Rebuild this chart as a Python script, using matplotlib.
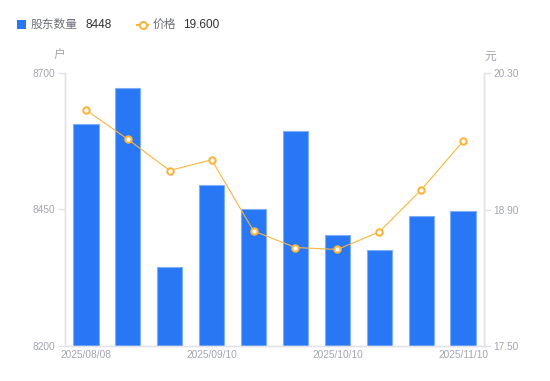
import matplotlib
matplotlib.use("Agg")
import matplotlib.pyplot as plt
from matplotlib.patches import Rectangle
from matplotlib.lines import Line2D

plt.rcParams['font.family'] = ['Liberation Sans', 'Noto Sans CJK SC', 'DejaVu Sans']

dates = ["2025/08/08", "2025/08/20", "2025/08/29", "2025/09/10", "2025/09/19",
         "2025/09/30", "2025/10/10", "2025/10/20", "2025/10/31", "2025/11/10"]
holders = [8607, 8672, 8344, 8494, 8451, 8593, 8403, 8375, 8439, 8448]
prices = [19.92, 19.62, 19.30, 19.41, 18.68, 18.51, 18.49, 18.67, 19.10, 19.60]
left_ticks = [8200, 8450, 8700]
right_ticks = [17.50, 18.90, 20.30]
shown_dates = [0, 3, 6, 9]

BLUE = '#2878F5'
ORANGE = '#FAB53F'
TICK = '#A3A5B3'
SPINE = '#E3E4E8'

W, H = 550, 381
fig = plt.figure(figsize=(W / 100, H / 100), dpi=100)
ax = fig.add_axes([65 / W, 1 - 346 / H, (484 - 65) / W, (346 - 73) / H])
x = list(range(len(dates)))
ax.bar(x, [h - left_ticks[0] for h in holders], bottom=left_ticks[0], width=0.6,
       color=BLUE, edgecolor='#7FAEF8', linewidth=0.8, zorder=2)
ax.set_xlim(-0.5, len(dates) - 0.5)
ax.set_ylim(left_ticks[0], left_ticks[-1])
ax.set_yticks(left_ticks)
ax.set_yticklabels([str(t) for t in left_ticks])
ax.set_xticks([i for i in shown_dates])
ax.set_xticklabels([dates[i] for i in shown_dates])

ax2 = ax.twinx()
ax2.plot(x, prices, color=ORANGE, linewidth=0.8, marker='o', markersize=4.6,
         markerfacecolor='white', markeredgecolor=ORANGE, markeredgewidth=1.5, zorder=3)
ax2.set_ylim(right_ticks[0], right_ticks[-1])
ax2.set_yticks(right_ticks)
ax2.set_yticklabels([f"{t:.2f}" for t in right_ticks])

for a in (ax, ax2):
    for s in ('top',):
        a.spines[s].set_visible(False)
    for s in ('left', 'right', 'bottom'):
        a.spines[s].set_color(SPINE)
        a.spines[s].set_linewidth(1.0)
    a.tick_params(axis='y', colors=SPINE, labelcolor=TICK, labelsize=7.3, length=5, width=1.0, pad=2)
ax.tick_params(axis='x', length=0, labelcolor=TICK, labelsize=7.3, pad=3)

fig.text(59 / W, 1 - 56 / H, "户", ha='center', va='center', color=TICK, fontsize=8.5)
fig.text(490 / W, 1 - 57 / H, "元", ha='center', va='center', color=TICK, fontsize=8.5)

# legend
fig.patches.append(Rectangle((17 / W, 1 - 29 / H), 9 / W, 9 / H, transform=fig.transFigure,
                             facecolor=BLUE, edgecolor='none'))
fig.text(31 / W, 1 - 24.5 / H, "股东数量", ha='left', va='center', color='#6E7079', fontsize=8.5)
fig.text(85 / W, 1 - 24.5 / H, str(holders[-1]), ha='left', va='center', color='#333333', fontsize=8.5)
fig.lines.append(Line2D([137 / W, 148 / W], [1 - 24.5 / H, 1 - 24.5 / H], transform=fig.transFigure,
                        color=ORANGE, linewidth=1.5, marker='o', markevery=[0], markersize=0))
fig.lines.append(Line2D([142.5 / W], [1 - 24.5 / H], transform=fig.transFigure,
                        color=ORANGE, marker='o', markersize=5, markerfacecolor='white',
                        markeredgecolor=ORANGE, markeredgewidth=1.5, linestyle='none'))
fig.text(153 / W, 1 - 24.5 / H, "价格", ha='left', va='center', color='#6E7079', fontsize=8.5)
fig.text(183 / W, 1 - 24.5 / H, f"{prices[-1]:.3f}", ha='left', va='center', color='#333333', fontsize=8.5)

fig.savefig("out.png", dpi=100)
